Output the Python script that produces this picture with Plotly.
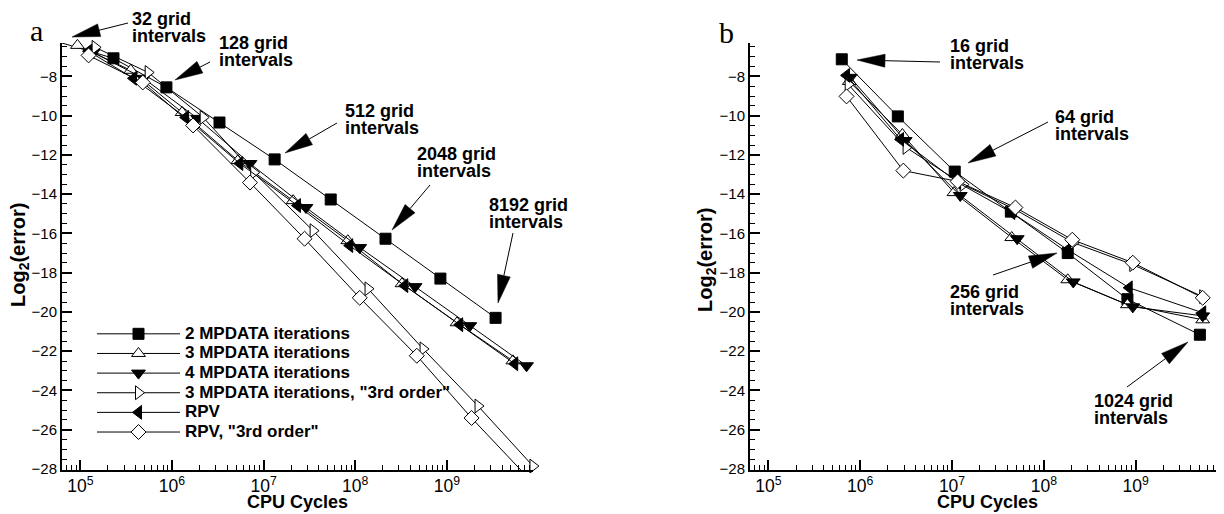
import math
import plotly.graph_objects as go

# ---------------- data ----------------
names = ["2 MPDATA iterations", "3 MPDATA iterations", "4 MPDATA iterations",
         '3 MPDATA iterations, "3rd order"', "RPV", 'RPV, "3rd order"']

# panel a : 32 ... 8192 grid intervals
a_mp2_x = [6.3e4, 2.3e5, 8.7e5, 3.3e6, 1.32e7, 5.4e7, 2.14e8, 8.5e8, 3.4e9]
a_mp2_y = [-6.30, -7.08, -8.56, -10.35, -12.23, -14.27, -16.27, -18.30, -20.30]
a_mp3_x = [9.3e4, 3.55e5, 1.29e6, 5.25e6, 2.1e7, 8.3e7, 3.24e8, 1.29e9, 5.25e9]
a_mp3_y = [-6.42, -7.69, -9.84, -12.29, -14.33, -16.37, -18.56, -20.55, -22.49]
a_mp4_x = [1.38e5, 4.9e5, 1.9e6, 7.1e6, 2.9e7, 1.12e8, 4.5e8, 1.78e9, 7.4e9]
a_mp4_y = [-6.78, -8.10, -10.14, -12.44, -14.68, -16.72, -18.71, -20.70, -22.74]
a_mp3o_x = [1.45e5, 5.5e5, 2.19e6, 7.8e6, 3.47e7, 1.38e8, 5.5e8, 2.19e9, 8.7e9]
a_mp3o_y = [-6.52, -7.80, -10.09, -12.90, -15.86, -18.82, -21.88, -24.79, -27.85]
a_rpv_x = [1.23e5, 3.8e5, 1.41e6, 5.5e6, 2.34e7, 8.7e7, 3.47e8, 1.38e9, 5.5e9]
a_rpv_y = [-6.72, -8.10, -10.09, -12.44, -14.58, -16.62, -18.66, -20.65, -22.64]
a_rpvo_x = [1.23e5, 4.8e5, 1.7e6, 7.1e6, 2.8e7, 1.12e8, 4.7e8, 1.86e9, 7.4e9]
a_rpvo_y = [-6.93, -8.31, -10.50, -13.41, -16.27, -19.28, -22.23, -25.40, -28.36]

# panel b : 16 ... 1024 grid intervals
b_mp2_x = [6.3e5, 2.57e6, 1.07e7, 4.37e7, 1.82e8, 8.13e8, 5.0e9]
b_mp2_y = [-7.13, -10.04, -12.85, -14.89, -17.00, -19.35, -21.16]
b_mp3_x = [7.6e5, 2.88e6, 1.05e7, 4.47e7, 1.82e8, 8.13e8, 5.37e9]
b_mp3_y = [-8.26, -10.96, -13.92, -16.21, -18.36, -19.63, -20.40]
b_mp4_x = [7.8e5, 3.09e6, 1.23e7, 5.13e7, 2.09e8, 9.3e8, 5.37e9]
b_mp4_y = [-8.05, -11.27, -14.07, -16.27, -18.47, -19.74, -20.20]
b_mp3o_x = [7.4e5, 3.16e6, 1.32e7, 4.9e7, 2.09e8, 9.3e8, 5.37e9]
b_mp3o_y = [-8.41, -11.62, -13.51, -14.79, -16.47, -17.59, -19.22]
b_rpv_x = [7.1e5, 2.75e6, 1.15e7, 4.47e7, 1.82e8, 8.5e8, 5.37e9]
b_rpv_y = [-7.95, -11.21, -13.40, -14.94, -16.83, -18.77, -20.04]
b_rpvo_x = [7.1e5, 2.95e6, 1.15e7, 4.9e7, 2.04e8, 9.3e8, 5.37e9]
b_rpvo_y = [-9.02, -12.80, -13.35, -14.68, -16.32, -17.49, -19.28]

a_labels = ["32 grid", "128 grid", "512 grid", "2048 grid", "8192 grid"]
b_labels = ["16 grid", "64 grid", "256 grid", "1024 grid"]

# ---------------- layout geometry ----------------
OFF = 8                      # page body margin of the browser
W, H = 1224 - OFF, 514 - OFF
ML, MR, MT, MB = 62 - OFF, 2, 43 - OFF, 44
PW, PH = W - ML - MR, H - MT - MB
XR = [4.80, 9.94]
YR = [-28.05, -6.30]
DOM_A = [0.0, (533 - 62) / PW]
DOM_B = [(750 - 62) / PW, 1.0]

FONT = "Liberation Sans, Arial, sans-serif"
styles = [
    dict(symbol="square", size=11, color="black", line=dict(color="black", width=1)),
    dict(symbol="triangle-up", size=12, color="white", line=dict(color="black", width=1)),
    dict(symbol="triangle-down", size=12, color="black", line=dict(color="black", width=1)),
    dict(symbol="triangle-right", size=12, color="white", line=dict(color="black", width=1)),
    dict(symbol="triangle-left", size=12, color="black", line=dict(color="black", width=1)),
    dict(symbol="diamond", size=11.5, color="white", line=dict(color="black", width=1)),
]

fig = go.Figure()
series_a = [(a_mp2_x, a_mp2_y), (a_mp3_x, a_mp3_y), (a_mp4_x, a_mp4_y),
            (a_mp3o_x, a_mp3o_y), (a_rpv_x, a_rpv_y), (a_rpvo_x, a_rpvo_y)]
series_b = [(b_mp2_x, b_mp2_y), (b_mp3_x, b_mp3_y), (b_mp4_x, b_mp4_y),
            (b_mp3o_x, b_mp3o_y), (b_rpv_x, b_rpv_y), (b_rpvo_x, b_rpvo_y)]
for i, (xs, ys) in enumerate(series_a):
    fig.add_trace(go.Scatter(x=xs, y=ys, mode="lines+markers",
                             name='<span style="font-size:17px">' + names[i] + "</span>",
                             line=dict(color="black", width=1), marker=styles[i],
                             cliponaxis=False, xaxis="x", yaxis="y"))
for i, (xs, ys) in enumerate(series_b):
    fig.add_trace(go.Scatter(x=xs, y=ys, mode="lines+markers", name=names[i],
                             showlegend=False,
                             line=dict(color="black", width=1), marker=styles[i],
                             cliponaxis=False, xaxis="x2", yaxis="y2"))


def xaxis_cfg(domain, anchor):
    return dict(type="log", range=XR, domain=domain, anchor=anchor, dtick=1,
                exponentformat="power", showline=True, linecolor="black", linewidth=2,
                ticks="inside", ticklen=10, tickwidth=2, tickcolor="black",
                minor=dict(ticks="inside", ticklen=5, tickwidth=1, tickcolor="black",
                           dtick="D1", showgrid=False),
                showgrid=False, zeroline=False, mirror=False,
                tickfont=dict(family=FONT, size=14, color="black"), automargin=False)


def yaxis_cfg(anchor):
    return dict(range=YR, domain=[0, 1], anchor=anchor, dtick=2, tick0=0,
                showline=True, linecolor="black", linewidth=2,
                ticks="inside", ticklen=10, tickwidth=2, tickcolor="black",
                minor=dict(ticks="inside", ticklen=5, tickwidth=1, tickcolor="black",
                           dtick=0.5, showgrid=False),
                showgrid=False, zeroline=False, mirror=False,
                tickfont=dict(family=FONT, size=15, color="black"), automargin=False)


def p2p(px, py):
    """page pixel -> paper coordinates"""
    return (px - OFF - ML) / PW, (H - MB - (py - OFF)) / PH


annotations = []
shapes = []


def text_at(px, py, txt, size=18, anchor="left", family=FONT, angle=0, bold=True):
    xp, yp = p2p(px, py)
    annotations.append(dict(xref="paper", yref="paper", x=xp, y=yp, text=txt,
                            showarrow=False, xanchor=anchor, yanchor="middle",
                            textangle=angle,
                            font=dict(family=family, size=size, color="black",
                                      weight="bold" if bold else "normal")))


def arrow(tail, tip, headlen=28, halfw=6.5):
    tx, ty = tail
    hx, hy = tip
    L = math.hypot(hx - tx, hy - ty)
    ux, uy = (hx - tx) / L, (hy - ty) / L
    bx, by = hx - ux * headlen, hy - uy * headlen
    nx, ny = -uy, ux
    a0 = p2p(tx, ty)
    a1 = p2p(bx, by)
    shapes.append(dict(type="line", xref="paper", yref="paper", x0=a0[0], y0=a0[1],
                       x1=a1[0], y1=a1[1], line=dict(color="black", width=1)))
    pts = [p2p(hx, hy), p2p(bx + nx * halfw, by + ny * halfw), p2p(bx - nx * halfw, by - ny * halfw)]
    path = "M{:.5f},{:.5f} L{:.5f},{:.5f} L{:.5f},{:.5f} Z".format(*pts[0], *pts[1], *pts[2])
    shapes.append(dict(type="path", xref="paper", yref="paper", path=path,
                       fillcolor="black", line=dict(color="black", width=0.5)))


# label placement (page pixels: left edge, first-line centre), arrow tail/tip
a_lab_pos = [(130, 19), (217, 43), (343, 111), (415, 154), (487, 205)]
a_arrows = [((128, 23), (72, 37)), ((210, 62), (175, 80)), ((337, 123), (285, 153)),
            ((430, 185), (392, 230)), ((513, 233), (498, 303))]
b_lab_pos = [(948, 46), (1053, 117), (948, 292), (1092, 401)]
b_arrows = [((940, 62), (857, 60)), ((1048, 122), (968, 163)),
            ((993, 275), (1057, 253)), ((1127, 387), (1188, 342))]
LINE_GAP = 17
for lab, (px, py) in zip(a_labels + b_labels, a_lab_pos + b_lab_pos):
    text_at(px, py, lab)
    text_at(px, py + LINE_GAP, "intervals")
for tail, tip in a_arrows + b_arrows:
    arrow(tail, tip)

# panel letters
SERIF = "Liberation Serif, Times New Roman, serif"
text_at(36, 31, "a", size=30, anchor="center", family=SERIF, bold=False)
text_at(726, 33, "b", size=30, anchor="center", family=SERIF, bold=False)

# axis titles
text_at(297, 502, "CPU Cycles", size=18, anchor="center")
text_at(987, 502, "CPU Cycles", size=18, anchor="center")
text_at(19, 255, "Log<sub>2</sub>(error)", size=20, anchor="center", angle=-90)
text_at(706, 260, "Log<sub>2</sub>(error)", size=20, anchor="center", angle=-90)

lx, ly = p2p(92, 319)
fig.update_layout(
    width=W, height=H,
    margin=dict(l=ML, r=MR, t=MT, b=MB, autoexpand=False),
    paper_bgcolor="white", plot_bgcolor="white",
    xaxis=xaxis_cfg(DOM_A, "y"), yaxis=yaxis_cfg("x"),
    xaxis2=xaxis_cfg(DOM_B, "y2"), yaxis2=yaxis_cfg("x2"),
    showlegend=True,
    legend=dict(x=lx, y=ly, xanchor="left", yanchor="top", bgcolor="rgba(0,0,0,0)",
                font=dict(family=FONT, size=12.8, color="black", weight="bold"),
                itemwidth=83, tracegroupgap=0, traceorder="normal"),
    annotations=annotations, shapes=shapes,
    font=dict(family=FONT, color="black"),
)

fig.write_html("out.html")
